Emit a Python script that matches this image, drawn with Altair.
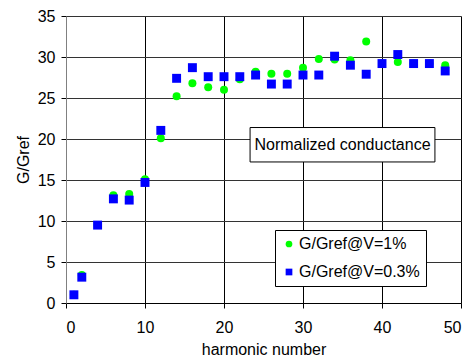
import altair as alt
import pandas as pd

harmonic = [1, 2, 4, 6, 8, 10, 12, 14, 16, 18, 20, 22, 24, 26, 28, 30, 32, 34, 36, 38, 40, 42, 44, 46, 48]
g_1pct = [1.0, 3.4, 9.5, 13.15, 13.3, 15.1, 20.1, 25.2, 26.8, 26.3, 26.0, 27.3, 28.2, 27.95, 27.95,
          28.7, 29.75, 29.7, 29.6, 31.9, 29.2, 29.4, 29.2, 29.2, 29.0]
g_03pct = [1.0, 3.15, 9.5, 12.7, 12.55, 14.7, 21.05, 27.4, 28.7, 27.6, 27.6, 27.6, 27.8, 26.7, 26.7,
           27.8, 27.8, 30.1, 29.0, 27.9, 29.2, 30.3, 29.2, 29.2, 28.3]
series_names = ["G/Gref@V=1%", "G/Gref@V=0.3%"]
series_colors = ["#00ff00", "#0000ff"]
series_shapes = ["circle", "square"]

note_text = ["Normalized conductance"]
note_x = [23.3]
note_x2 = [46.7]
note_y = [21.4]
note_y2 = [17.2]
note_cx = [35.0]
note_cy = [19.3]

FONT = "Liberation Sans"

df = pd.DataFrame({
    "h": harmonic * 2,
    "g": g_1pct + g_03pct,
    "series": [series_names[0]] * len(harmonic) + [series_names[1]] * len(harmonic),
})
note_df = pd.DataFrame({"t": note_text, "x": note_x, "x2": note_x2, "y": note_y, "y2": note_y2,
                        "cx": note_cx, "cy": note_cy})

xscale = alt.Scale(domain=[0, 50], nice=False, zero=False)
yscale = alt.Scale(domain=[0, 35], nice=False)

xaxis = alt.Axis(values=[0, 10, 20, 30, 40, 50], title="harmonic number", grid=True,
                 gridColor="#000000", gridOpacity=1, domainColor="#000000",
                 tickColor="#000000", tickSize=5, labelPadding=11, labelFontSize=16,
                 titleFontSize=16, titleFontWeight="normal", titlePadding=6,
                 labelFont=FONT, titleFont=FONT, labelColor="#000", titleColor="#000")
yaxis = alt.Axis(values=[0, 5, 10, 15, 20, 25, 30, 35], title="G/Gref", grid=True,
                 gridColor="#333333", gridOpacity=1, domainColor="#808080",
                 tickColor="#000000", tickSize=5, labelPadding=6, labelFontSize=16,
                 titleFontSize=16, titleFontWeight="normal", titlePadding=6,
                 labelFont=FONT, titleFont=FONT, labelColor="#000", titleColor="#000")

color = alt.Color("series:N", scale=alt.Scale(domain=series_names, range=series_colors),
                  legend=alt.Legend(title=None, orient="none", legendX=209, legendY=214,
                                    strokeColor="#000000", fillColor="#ffffff", padding=6,
                                    symbolOffset=0, labelOffset=2, rowPadding=12,
                                    labelFontSize=16, labelFont=FONT, labelColor="#000",
                                    symbolSize=45, symbolStrokeWidth=0, labelLimit=300))
shape = alt.Shape("series:N", scale=alt.Scale(domain=series_names, range=series_shapes))

base = alt.Chart(df).encode(
    x=alt.X("h:Q", scale=xscale, axis=xaxis),
    y=alt.Y("g:Q", scale=yscale, axis=yaxis),
    color=color,
    shape=shape,
)

green = base.transform_filter(alt.datum.series == series_names[0]).mark_point(
    filled=True, size=64, opacity=1)
blue = base.transform_filter(alt.datum.series == series_names[1]).mark_point(
    filled=True, size=80, opacity=1)

box = alt.Chart(note_df).mark_rect(fill="#ffffff", stroke="#000000", strokeWidth=1).encode(
    x=alt.X("x:Q", scale=xscale), x2="x2:Q",
    y=alt.Y("y:Q", scale=yscale), y2="y2:Q")
txt = alt.Chart(note_df).mark_text(fontSize=16, font=FONT, color="#000000").encode(
    x=alt.X("cx:Q", scale=xscale), y=alt.Y("cy:Q", scale=yscale), text="t:N")

chart = alt.layer(green, blue, box, txt).properties(
    width=395, height=287,
    autosize=alt.AutoSizeParams(type="none"),
    padding={"left": 58, "top": 8, "right": 5, "bottom": 56},
).configure_view(stroke="#808080", strokeWidth=1.5).configure(background="#ffffff")

chart.save("out.html", embed_options={"renderer": "svg", "actions": False})
